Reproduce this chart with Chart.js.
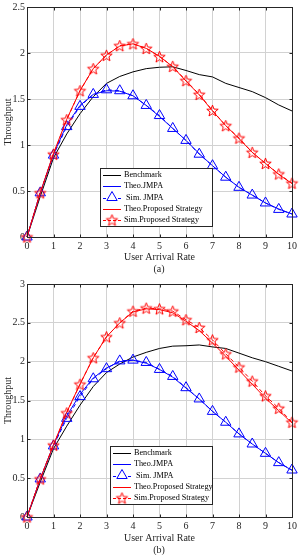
<!DOCTYPE html>
<html>
<head>
<meta charset="utf-8">
<script src="https://cdn.jsdelivr.net/npm/chart.js@4/dist/chart.umd.min.js"></script>
<style>
  html, body { margin: 0; padding: 0; background: #ffffff; }
  canvas { display: block; }
</style>
</head>
<body>
<canvas id="chartA" width="301" height="277"></canvas>
<canvas id="chartB" width="301" height="278"></canvas>
<script>
// ---------- DATA ----------
const arrivalRate = [0, 0.5, 1, 1.5, 2, 2.5, 3, 3.5, 4, 4.5, 5, 5.5, 6, 6.5, 7, 7.5, 8, 8.5, 9, 9.5, 10];
const xTickValues = [0, 1, 2, 3, 4, 5, 6, 7, 8, 9, 10];

const seriesNames = ['Benchmark', 'Theo.JMPA', ' Sim. JMPA', 'Theo.Proposed Strategy', 'Sim.Proposed Strategy'];

// (a)
const benchmarkA   = [0, 0.44, 0.86, 1.12, 1.34, 1.525, 1.67, 1.745, 1.795, 1.83, 1.845, 1.85, 1.81, 1.765, 1.74, 1.67, 1.625, 1.58, 1.515, 1.435, 1.37];
const theoJmpaA    = [0, 0.48, 0.90, 1.22, 1.43, 1.55, 1.59, 1.585, 1.535, 1.43, 1.31, 1.18, 1.05, 0.905, 0.775, 0.65, 0.54, 0.455, 0.37, 0.305, 0.25];
const simJmpaA     = [0, 0.48, 0.89, 1.20, 1.42, 1.55, 1.60, 1.59, 1.535, 1.43, 1.32, 1.18, 1.05, 0.90, 0.775, 0.65, 0.54, 0.456, 0.37, 0.30, 0.25];
const theoPropA    = [0, 0.48, 0.91, 1.28, 1.59, 1.83, 1.98, 2.075, 2.10, 2.05, 1.965, 1.85, 1.695, 1.545, 1.37, 1.21, 1.07, 0.92, 0.80, 0.68, 0.58];
const simPropA     = [0, 0.48, 0.90, 1.275, 1.59, 1.83, 1.975, 2.08, 2.10, 2.05, 1.96, 1.855, 1.70, 1.55, 1.375, 1.21, 1.075, 0.92, 0.80, 0.685, 0.585];
const yTicksA      = [0, 0.5, 1, 1.5, 2, 2.5];

// (b)
const benchmarkB   = [0, 0.45, 0.88, 1.17, 1.44, 1.68, 1.86, 1.97, 2.06, 2.12, 2.17, 2.20, 2.205, 2.215, 2.19, 2.17, 2.11, 2.05, 2.00, 1.94, 1.88];
const theoJmpaB    = [0, 0.49, 0.93, 1.30, 1.58, 1.79, 1.92, 2.00, 2.02, 1.98, 1.90, 1.80, 1.66, 1.52, 1.36, 1.22, 1.07, 0.94, 0.82, 0.70, 0.60];
const simJmpaB     = [0, 0.49, 0.915, 1.27, 1.55, 1.78, 1.91, 2.01, 2.02, 1.99, 1.90, 1.81, 1.665, 1.52, 1.36, 1.22, 1.07, 0.94, 0.82, 0.70, 0.605];
const theoPropB    = [0, 0.49, 0.93, 1.35, 1.71, 2.05, 2.32, 2.50, 2.64, 2.68, 2.67, 2.63, 2.52, 2.40, 2.24, 2.07, 1.89, 1.71, 1.53, 1.37, 1.21];
const simPropB     = [0, 0.49, 0.925, 1.34, 1.71, 2.05, 2.32, 2.50, 2.65, 2.69, 2.68, 2.65, 2.54, 2.44, 2.28, 2.10, 1.93, 1.75, 1.56, 1.40, 1.22];
const yTicksB      = [0, 0.5, 1, 1.5, 2, 2.5, 3];

// ---------- STYLE ----------
const FONT = "'Liberation Serif', 'Times New Roman', serif";
const TEXT = '#262626';
const GRID = '#d2d2d2';
const BLUE = '#0000ff';
const RED = '#ff0000';
const BLACK = '#000000';

function makeStar(r, color) {
  const s = Math.ceil(r * 2 + 3);
  const c = document.createElement('canvas');
  c.width = s; c.height = s;
  const g = c.getContext('2d');
  g.strokeStyle = color; g.lineWidth = 1;
  g.beginPath();
  for (let i = 0; i < 10; i++) {
    const rad = (i % 2 === 0) ? r : r * 0.42;
    const ang = -Math.PI / 2 + i * Math.PI / 5;
    const px = s / 2 + rad * Math.cos(ang);
    const py = s / 2 + 0.6 + rad * Math.sin(ang);
    if (i === 0) g.moveTo(px, py); else g.lineTo(px, py);
  }
  g.closePath(); g.stroke();
  return c;
}
const starImg = makeStar(6, RED);

function pts(ys) { return arrivalRate.map((x, i) => ({ x: x, y: ys[i] })); }

function buildDatasets(bench, theoJ, simJ, theoP, simP) {
  return [
    { label: seriesNames[4], data: pts(simP), borderColor: RED, borderWidth: 1, borderDash: [4, 3],
      pointStyle: starImg, pointRadius: 6, pointHoverRadius: 6, clip: false, kind: 'star' },
    { label: seriesNames[3], data: pts(theoP), borderColor: RED, borderWidth: 1, pointRadius: 0, clip: false, kind: 'line' },
    { label: seriesNames[2], data: pts(simJ), borderColor: BLUE, borderWidth: 1, borderDash: [4, 3],
      pointStyle: 'triangle', pointRadius: 6, pointHoverRadius: 6, pointBorderColor: BLUE, pointBorderWidth: 1,
      pointBackgroundColor: 'rgba(0,0,0,0)', clip: false, kind: 'tri' },
    { label: seriesNames[1], data: pts(theoJ), borderColor: BLUE, borderWidth: 1, pointRadius: 0, clip: false, kind: 'line' },
    { label: seriesNames[0], data: pts(bench), borderColor: BLACK, borderWidth: 1, pointRadius: 0, clip: false, kind: 'line' }
  ];
}

const framePlugin = {
  id: 'frame',
  afterDatasetsDraw(chart, args, opts) {
    const { ctx, chartArea: a, scales } = chart;
    ctx.save();
    ctx.strokeStyle = TEXT; ctx.lineWidth = 1;
    const L = Math.round(a.left) + 0.5, R = Math.round(a.right) + 0.5;
    const T = Math.round(a.top) + 0.5, B = Math.round(a.bottom) + 0.5;
    ctx.beginPath();
    scales.x.ticks.forEach(t => {
      const px = Math.round(scales.x.getPixelForValue(t.value)) + 0.5;
      ctx.moveTo(px, B); ctx.lineTo(px, B - 3);
      ctx.moveTo(px, T); ctx.lineTo(px, T + 3);
    });
    scales.y.ticks.forEach(t => {
      const py = Math.round(scales.y.getPixelForValue(t.value)) + 0.5;
      ctx.moveTo(L, py); ctx.lineTo(L + 3, py);
      ctx.moveTo(R, py); ctx.lineTo(R - 3, py);
    });
    ctx.stroke();
    ctx.strokeRect(L, T, R - L, B - T);

    // legend
    const lg = opts.legend;
    ctx.fillStyle = '#ffffff';
    ctx.fillRect(lg.x + 0.5, lg.y + 0.5, lg.w, lg.h);
    ctx.strokeStyle = TEXT;
    ctx.strokeRect(lg.x + 0.5, lg.y + 0.5, lg.w, lg.h);
    const order = [4, 3, 2, 1, 0];
    ctx.font = '8.2px ' + FONT;
    ctx.textBaseline = 'middle';
    ctx.textAlign = 'left';
    order.forEach((di, row) => {
      const ds = chart.data.datasets[di];
      const cy = lg.y + 7 + row * 11.25;
      const x0 = lg.x + 3, x1 = lg.x + 21;
      ctx.save();
      ctx.strokeStyle = ds.borderColor; ctx.lineWidth = 1;
      if (ds.borderDash) ctx.setLineDash([3, 2]);
      ctx.beginPath(); ctx.moveTo(x0, Math.round(cy) + 0.5); ctx.lineTo(x1, Math.round(cy) + 0.5); ctx.stroke();
      ctx.setLineDash([]);
      const mx = (x0 + x1) / 2;
      if (ds.kind === 'star') {
        ctx.drawImage(starImg, mx - starImg.width / 2, cy - starImg.height / 2);
      } else if (ds.kind === 'tri') {
        ctx.beginPath();
        const r = 6;
        for (let k = 0; k < 3; k++) {
          const ang = -Math.PI / 2 + k * 2 * Math.PI / 3;
          const px = mx + r * Math.cos(ang), py = cy + r * Math.sin(ang);
          if (k === 0) ctx.moveTo(px, py); else ctx.lineTo(px, py);
        }
        ctx.closePath(); ctx.fillStyle = '#ffffff'; ctx.fill(); ctx.stroke();
      }
      ctx.restore();
      ctx.fillStyle = '#000000';
      ctx.fillText(ds.label, lg.x + 24, cy);
    });

    // caption
    ctx.font = '10px ' + FONT;
    ctx.fillStyle = TEXT;
    ctx.textAlign = 'center';
    ctx.textBaseline = 'middle';
    ctx.fillText(opts.caption, opts.captionX, opts.captionY);
    ctx.restore();
  }
};

const fmt = (v) => String(Math.round(v * 100) / 100);

function makeChart(id, datasets, yMax, yTicks, cfg) {
  return new Chart(document.getElementById(id), {
    type: 'line',
    data: { datasets: datasets },
    options: {
      responsive: false,
      animation: false,
      devicePixelRatio: 1,
      events: [],
      layout: { padding: { top: cfg.padTop, right: 6, bottom: cfg.padBottom, left: 0 } },
      plugins: {
        legend: { display: false },
        tooltip: { enabled: false },
        frame: { legend: cfg.legend, caption: cfg.caption, captionX: 159, captionY: cfg.captionY }
      },
      scales: {
        x: {
          type: 'linear', min: 0, max: 10,
          afterBuildTicks: (s) => { s.ticks = xTickValues.map(v => ({ value: v })); },
          afterFit: (s) => { s.height = 28; },
          grid: { color: GRID, lineWidth: 1, drawTicks: false },
          border: { display: false },
          ticks: { color: TEXT, padding: 4, maxRotation: 0, autoSkip: false, callback: fmt,
                   font: { family: FONT, size: 10, lineHeight: 1 } },
          title: { display: true, text: 'User Arrival Rate', color: TEXT,
                   font: { family: FONT, size: 10, lineHeight: 1.2 }, padding: { top: 0, bottom: cfg.titlePad } }
        },
        y: {
          type: 'linear', min: 0, max: yMax,
          afterBuildTicks: (s) => { s.ticks = yTicks.map(v => ({ value: v })); },
          afterFit: (s) => { s.width = 27; },
          grid: { color: GRID, lineWidth: 1, drawTicks: false },
          border: { display: false },
          ticks: { color: TEXT, padding: 2, autoSkip: false, callback: fmt,
                   font: { family: FONT, size: 10, lineHeight: 1 } },
          title: { display: true, text: 'Throughput', color: TEXT,
                   font: { family: FONT, size: 10, lineHeight: 1.2 }, padding: { top: 2, bottom: 0 } }
        }
      }
    },
    plugins: [framePlugin]
  });
}

makeChart('chartA', buildDatasets(benchmarkA, theoJmpaA, simJmpaA, theoPropA, simPropA), 2.5, yTicksA,
  { padTop: 5, padBottom: 12, titlePad: 2, caption: '(a)', captionY: 269,
    legend: { x: 100, y: 168, w: 112, h: 58 } });

makeChart('chartB', buildDatasets(benchmarkB, theoJmpaB, simJmpaB, theoPropB, simPropB), 3, yTicksB,
  { padTop: 7, padBottom: 10, titlePad: 1, caption: '(b)', captionY: 273,
    legend: { x: 110, y: 169, w: 102, h: 58 } });
</script>
</body>
</html>
